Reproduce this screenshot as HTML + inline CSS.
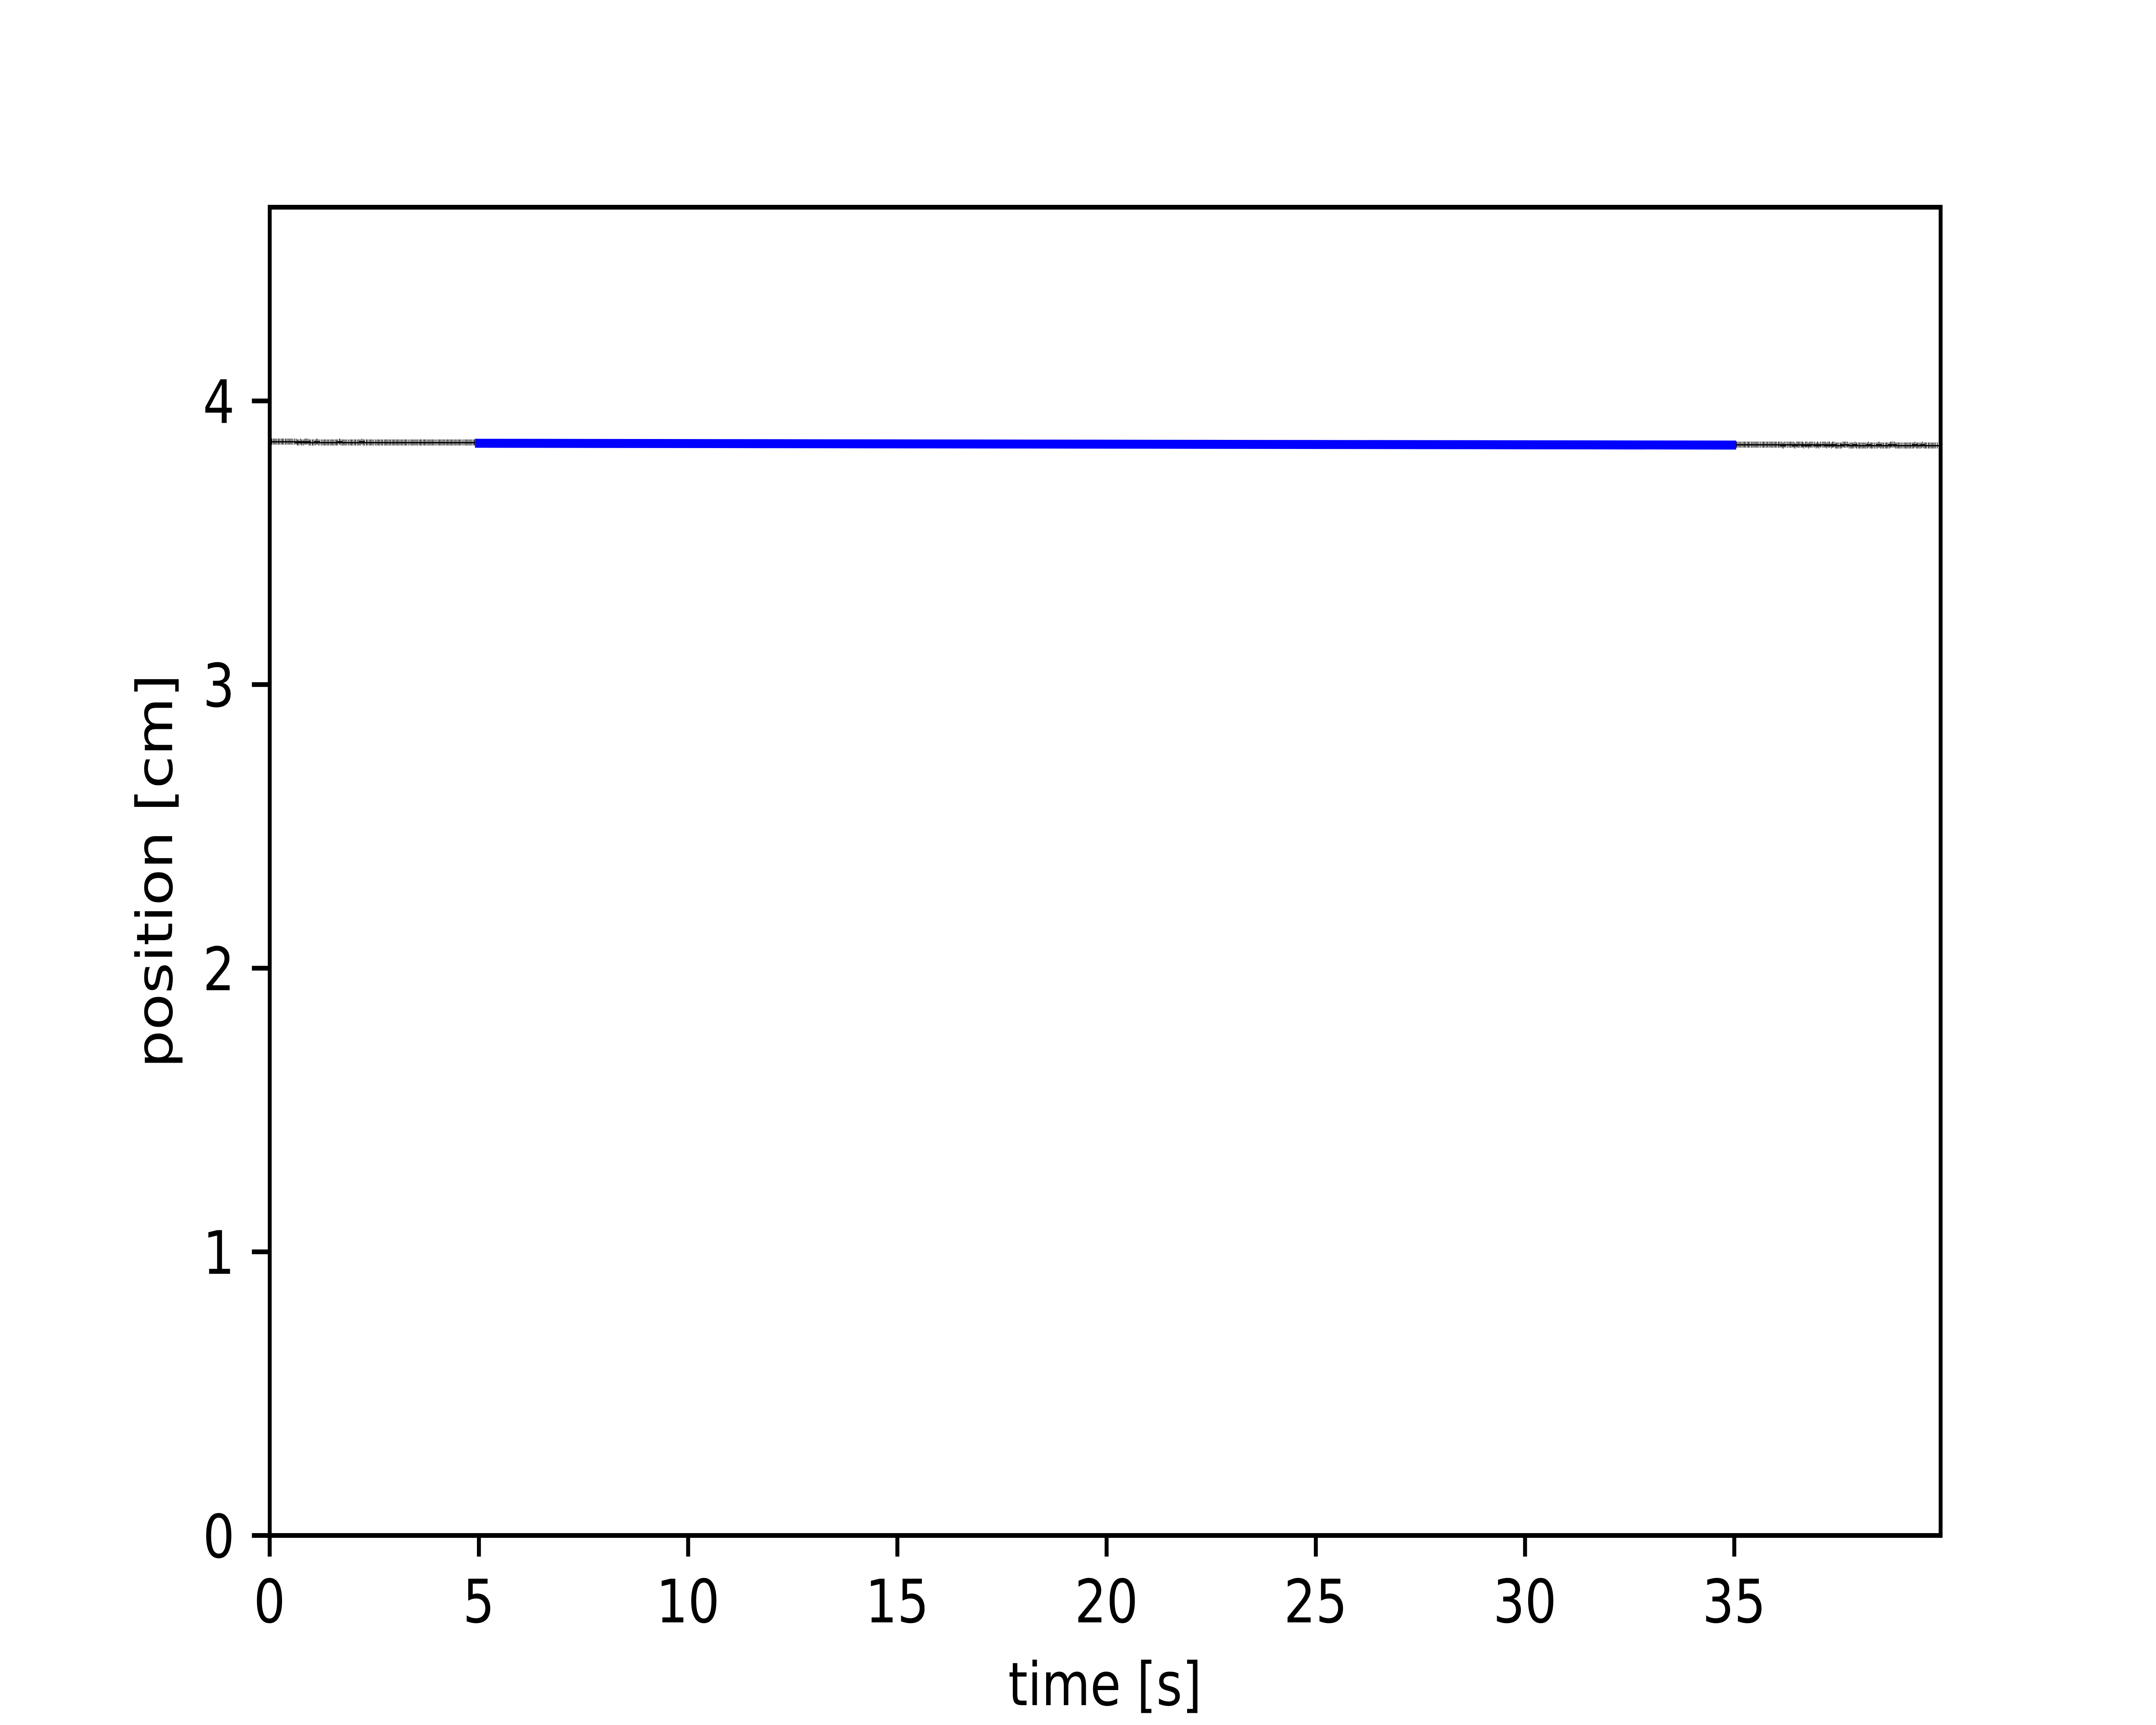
<!DOCTYPE html>
<html lang="en">
<head>
<meta charset="utf-8">
<title>Position over time</title>
<style>
html,body{margin:0;padding:0;background:#fff;width:100%;height:100%;overflow:hidden}
svg{display:block;width:100vw;height:100vh}
text{font-family:"DejaVu Sans","Liberation Sans",sans-serif;font-size:138.89px;fill:#000;text-rendering:geometricPrecision}
</style>
</head>
<body>
<svg id="chart" xmlns="http://www.w3.org/2000/svg" viewBox="0 0 6000 4000" preserveAspectRatio="none">
  <rect x="0" y="0" width="6000" height="4000" fill="#ffffff"/>
  <defs>
    <clipPath id="plot-clip"><rect x="750" y="480" width="4650" height="3080"/></clipPath>
  </defs>
  <g id="raw-layer" clip-path="url(#plot-clip)"></g>
  <g id="fit-layer" clip-path="url(#plot-clip)"></g>
  <g id="tick-layer"></g>
  <rect x="750.5" y="480.5" width="4650" height="3080" fill="none" stroke="#000" stroke-width="11" stroke-linejoin="miter" shape-rendering="crispEdges"/>
  <text x="3075" y="3954" text-anchor="middle">time [s]</text>
  <text x="479" y="2020" text-anchor="middle" transform="rotate(-90 479 2020)">position [cm]</text>
</svg>
<script>
const xTicks = [0, 5, 10, 15, 20, 25, 30, 35];
const yTicks = [0, 1, 2, 3, 4];
const xLimit = [0, 39.93];
const yLimit = [0, 4.683];

const rawLeftStart = 0.06;
const rawRightStart = 35.06;
const rawStep = 0.0358;

const rawLeftValues = [
3.8555,3.8555,3.8555,3.8555,3.8555,3.8555,3.8555,3.8555,3.8555,3.8555,
3.8555,3.8555,3.8555,3.8555,3.8555,3.8555,3.8555,3.8525,3.8525,3.8555,
3.8525,3.8525,3.8555,3.8555,3.8555,3.8525,3.8525,3.8525,3.8525,3.8525,
3.8555,3.8525,3.8525,3.8525,3.8525,3.8525,3.8525,3.8525,3.8525,3.8525,
3.8525,3.8525,3.8525,3.8525,3.8525,3.8555,3.8525,3.8525,3.8525,3.8525,
3.8525,3.8525,3.8525,3.8525,3.8525,3.8525,3.8525,3.8525,3.8525,3.8525,
3.8555,3.8525,3.8525,3.8525,3.8525,3.8525,3.8525,3.8525,3.8525,3.8525,
3.8525,3.8525,3.8525,3.8525,3.8525,3.8525,3.8525,3.8525,3.8525,3.8525,
3.8525,3.8525,3.8525,3.8525,3.8525,3.8525,3.8525,3.8525,3.8525,3.8525,
3.8525,3.8525,3.8525,3.8525,3.8525,3.8525,3.8525,3.8525,3.8525,3.8525,
3.8525,3.8525,3.8525,3.8525,3.8525,3.8525,3.8525,3.8525,3.8525,3.8525,
3.8525,3.8525,3.8525,3.8525,3.8525,3.8525,3.8525,3.8525,3.8525,3.8525,
3.8525,3.8525,3.8525,3.8525,3.8525,3.8525,3.8525,3.8525,3.8525,3.8525,
3.8525,3.8525,3.8525,3.8525,3.8525,3.8525
];

const rawRightValues = [
3.8449,3.8449,3.8449,3.8449,3.8449,3.8449,3.8449,3.8449,3.8449,3.8449,
3.8449,3.8449,3.8449,3.8449,3.8449,3.8449,3.8449,3.8449,3.8449,3.8449,
3.8449,3.8449,3.8449,3.8449,3.8449,3.8449,3.8449,3.8449,3.8449,3.8449,
3.8449,3.8418,3.8449,3.8449,3.8449,3.8449,3.8449,3.8449,3.8449,3.8418,
3.8449,3.8449,3.8449,3.8449,3.8449,3.8418,3.8449,3.8449,3.8418,3.8449,
3.8449,3.8449,3.8449,3.8418,3.8449,3.8418,3.8449,3.8449,3.8449,3.8449,
3.8418,3.8449,3.8449,3.8418,3.8449,3.8449,3.8418,3.8418,3.8418,3.8418,
3.8418,3.8449,3.8449,3.8449,3.8449,3.8418,3.8418,3.8418,3.8418,3.8449,
3.8418,3.8418,3.8418,3.8418,3.8418,3.8418,3.8418,3.8418,3.8449,3.8418,
3.8418,3.8418,3.8418,3.8418,3.8418,3.8449,3.8418,3.8418,3.8418,3.8418,
3.8418,3.8418,3.8418,3.8449,3.8449,3.8449,3.8418,3.8418,3.8418,3.8418,
3.8418,3.8418,3.8418,3.8418,3.8418,3.8418,3.8418,3.8418,3.8418,3.8449,
3.8418,3.8418,3.8418,3.8418,3.8449,3.8418,3.8418,3.8418,3.8418,3.8418,
3.8418,3.8418,3.8418,3.8418,3.8418,3.8418
];

const fitTimes = [5, 34.96];
const fitValues = [3.850, 3.8436];

const SVG_NS = 'http://www.w3.org/2000/svg';
function xScale(t) { return 750 + (t - xLimit[0]) / (xLimit[1] - xLimit[0]) * 4650; }
function yScale(v) { return 3560 - (v - yLimit[0]) / (yLimit[1] - yLimit[0]) * 3080; }

const rawLayer = document.getElementById('raw-layer');
function drawRaw(values, start) {
  values.forEach(function (v, i) {
    const x = Math.round(xScale(start + i * rawStep));
    const y = Math.round(yScale(v));
    const p = document.createElementNS(SVG_NS, 'path');
    p.setAttribute('d', 'M' + (x - 1) + ' ' + (y - 7) + 'h2v14h-2zM' + (x - 7) + ' ' + (y - 1) + 'h14v3h-14z');
    p.setAttribute('fill', '#000');
    p.setAttribute('shape-rendering', 'crispEdges');
    
    
    rawLayer.appendChild(p);
  });
}
drawRaw(rawLeftValues, rawLeftStart);
drawRaw(rawRightValues, rawRightStart);

const fitLine = document.createElementNS(SVG_NS, 'polyline');
fitLine.setAttribute('points', fitTimes.map(function (t, i) { return xScale(t) + ',' + yScale(fitValues[i]); }).join(' '));
fitLine.setAttribute('fill', 'none');
fitLine.setAttribute('stroke', '#0000ff');
fitLine.setAttribute('stroke-width', '20.83');
fitLine.setAttribute('stroke-linecap', 'square');


document.getElementById('fit-layer').appendChild(fitLine);

const tickLayer = document.getElementById('tick-layer');
xTicks.forEach(function (t) {
  const x = xScale(t) + 0.5;
  const tick = document.createElementNS(SVG_NS, 'rect');
  tick.setAttribute('x', x - 5.5);
  tick.setAttribute('y', 3560);
  tick.setAttribute('width', 11);
  tick.setAttribute('height', 49.5);
  tick.setAttribute('fill', '#000');
  
  
  tickLayer.appendChild(tick);
  const label = document.createElementNS(SVG_NS, 'text');
  label.setAttribute('x', xScale(t));
  label.setAttribute('y', 3762);
  label.setAttribute('text-anchor', 'middle');
  label.textContent = String(t);
  
  
  tickLayer.appendChild(label);
});
yTicks.forEach(function (v) {
  const y = yScale(v) + 0.5;
  const tick = document.createElementNS(SVG_NS, 'rect');
  tick.setAttribute('x', 701);
  tick.setAttribute('y', y - 5.5);
  tick.setAttribute('width', 49.5);
  tick.setAttribute('height', 11);
  tick.setAttribute('fill', '#000');
  
  
  tickLayer.appendChild(tick);
  const label = document.createElementNS(SVG_NS, 'text');
  label.setAttribute('x', 653);
  label.setAttribute('y', yScale(v) + 51.5);
  label.setAttribute('text-anchor', 'end');
  label.textContent = String(v);
  
  
  tickLayer.appendChild(label);
});
</script>
</body>
</html>
